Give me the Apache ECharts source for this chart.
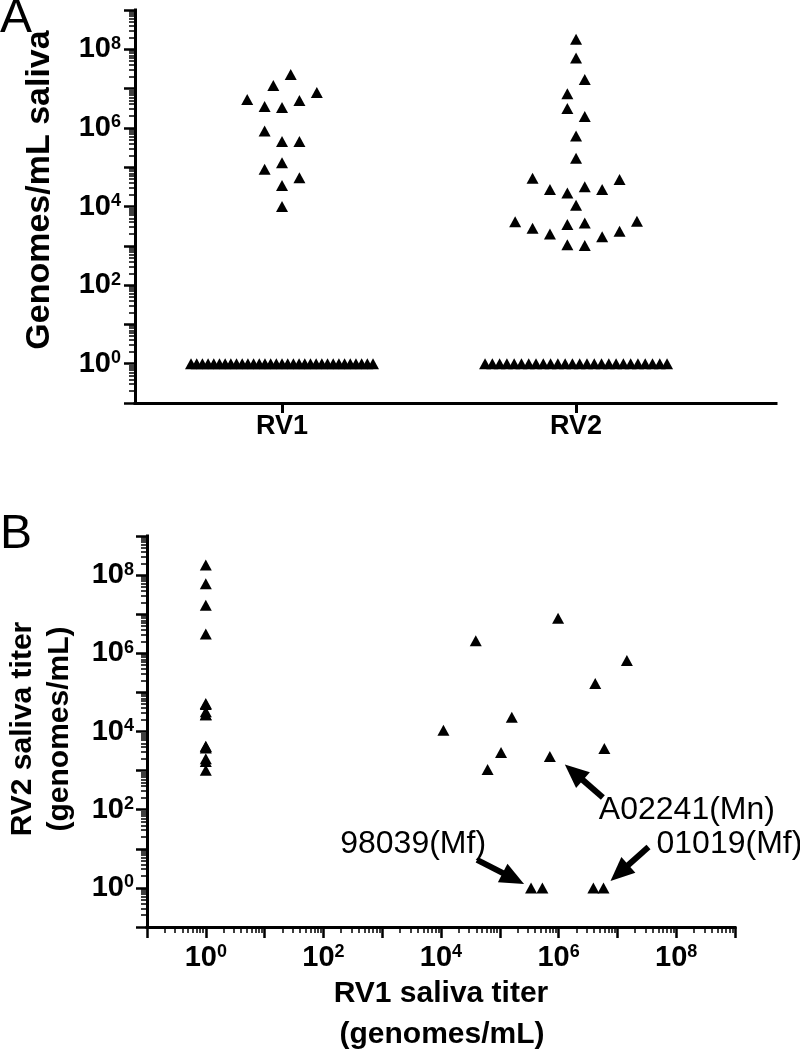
<!DOCTYPE html>
<html>
<head>
<meta charset="utf-8">
<script src="https://cdn.jsdelivr.net/npm/echarts@6/dist/echarts.min.js"></script>
<style>html,body{margin:0;padding:0;background:#fff}#c{width:800px;height:1057px}</style>
</head>
<body>
<div id="c"></div>
<script>
// ---------------- DATA ----------------
const categories = ['RV1', 'RV2'];

// Panel A: genomes/mL saliva (1 = below detection)
const rv1Saliva = [
  1.2e7, 2.3e7,
  3.3e6, 3.5e6, 5.0e6, 5.3e6, 8.0e6,
  4.5e5, 8.3e5, 4.5e5,
  1.3e5, 8.9e4, 5.4e4,
  3.4e4,
  1.0e4,
  1,1,1,1,1,1,1,1,1,1,1,1,1,1,1,1,1,1,1,1,1,1,1,1,1,1,1,1,1,1,1,1,1
];
const rv2Saliva = [
  1.8e8,
  6.0e7,
  7.4e6, 1.7e7,
  3.1e6, 1.95e6,
  6.2e5,
  1.7e5,
  2.2e4, 3.2e4, 2.7e4, 2.7e4, 5.2e4, 4.9e4,
  1.07e4,
  3.5e3, 3.8e3, 2.0e3, 1.7e3, 2.8e3, 2.35e3, 4.1e3, 4.2e3,
  1.07e3, 1.02e3,
  1,1,1,1,1,1,1,1,1,1,1,1,1,1,1,1,1,1,1,1,1,1,1,1,1,1
];

// Panel B: paired titers (genomes/mL)
const rv1Titer = [
  1,1,1,1,1,1,1,1,1,1,1,1,1,1,1,
  3.9e4, 9.8e5, 1.45e7, 4.2e6, 1.6e5, 1.1e4, 1.05e5, 7.1e5, 6.0e6, 6.2e4,
  3.4e5, 5.3e5, 3.9e6, 5.8e6
];
const rv2Titer = [
  1.8e8, 6.0e7, 1.7e7, 3.1e6, 5.2e4, 4.9e4, 3.2e4, 2.7e4, 2.7e4, 4.2e3, 4.1e3, 3.8e3, 2.0e3, 1.7e3, 1.02e3,
  2.1e6, 7.9e6, 6.5e5, 1.7e5, 2.3e4, 1.07e4, 2.9e3, 2.3e3, 3.7e3, 1.07e3,
  1, 1, 1, 1
];

const annotationLabels = ['A02241(Mn)', '98039(Mf)', '01019(Mf)'];
const annotationTargets = [[7.1e5, 2.3e3], [3.4e5, 1], [5.8e6, 1]];

const majorTickLabels = [1, 1e2, 1e4, 1e6, 1e8];
const decadeTicks = [0.1, 1, 10, 1e2, 1e3, 1e4, 1e5, 1e6, 1e7, 1e8, 1e9];

// ---------------- HELPERS ----------------
const FONT = "'Liberation Sans', Arial, Helvetica, sans-serif";
const minorTicks = [];
decadeTicks.slice(0, -1).forEach(d => { for (let m = 2; m <= 9; m++) minorTicks.push(m * d); });

// Column scatter (beeswarm): points grouped in rows by log value, spread symmetrically
const STEP = 17.4, MAXSPREAD = 182, ROW_DECADES = 0.4;
function swarm(values, xPos) {
  const idx = values.map((v, i) => i).sort((a, b) => values[b] - values[a] || a - b);
  const rows = []; let cur = null, top = 0;
  idx.forEach(i => {
    const l = Math.log10(values[i]);
    if (cur && top - l < ROW_DECADES) cur.push(i);
    else { cur = [i]; rows.push(cur); top = l; }
  });
  const off = values.map(() => 0);
  rows.forEach(r => {
    r.sort((a, b) => a - b);
    const n = r.length;
    const step = n > 1 ? Math.min(STEP, MAXSPREAD / (n - 1)) : 0;
    r.forEach((i, k) => {
      let s;
      if (n % 2) s = k === 0 ? 0 : (k % 2 ? -Math.ceil(k / 2) : k / 2);
      else { const m = Math.floor(k / 2) + 0.5; s = k % 2 ? m : -m; }
      off[i] = s * step;
    });
  });
  return values.map((v, i) => ({ value: [xPos, v], symbolOffset: [off[i], 0] }));
}

function powLabel(v) {
  const e = Math.round(Math.log10(v));
  return '{b|10}{s|' + e + '}';
}
const powRich = {
  b: { fontFamily: FONT, fontWeight: 'bold', fontSize: 29, lineHeight: 29, color: '#000', verticalAlign: 'top' },
  s: { fontFamily: FONT, fontWeight: 'bold', fontSize: 18, lineHeight: 18, color: '#000', verticalAlign: 'top' }
};

const axisLine = { show: true, onZero: false, lineStyle: { color: '#000', width: 3, cap: 'square' } };
function logAxis(gridIndex, position, isMinor, extra) {
  return Object.assign({
    type: 'log', logBase: 10, gridIndex, position, min: 0.1, max: 1e9,
    axisLine: isMinor ? { show: false } : axisLine,
    splitLine: { show: false },
    axisTick: isMinor
      ? { show: true, customValues: minorTicks, length: 6, lineStyle: { color: '#000', width: 1.5 } }
      : { show: true, customValues: decadeTicks, length: 11, lineStyle: { color: '#000', width: 2.5 } },
    axisLabel: isMinor ? { show: false } : {
      show: true, customValues: majorTickLabels, formatter: powLabel, rich: powRich
    }
  }, extra || {});
}

const triangle = { symbol: 'triangle', symbolSize: [12, 11], itemStyle: { color: '#000', opacity: 1 } };

const option = {
  animation: false,
  backgroundColor: '#fff',
  grid: [
    { left: 135, top: 10, width: 641, height: 393 },
    { left: 147, top: 536, width: 588, height: 391 }
  ],
  xAxis: [
    {
      type: 'value', gridIndex: 0, position: 'bottom', min: 0.5, max: 2.68,
      axisLine: axisLine, splitLine: { show: false },
      axisTick: { show: true, customValues: [1, 2], length: 10, lineStyle: { color: '#000', width: 3 } },
      axisLabel: {
        show: true, customValues: [1, 2], margin: 10,
        formatter: v => categories[Math.round(v) - 1],
        fontFamily: FONT, fontWeight: 'bold', fontSize: 27, color: '#000'
      }
    },
    logAxis(1, 'bottom', false, { axisLabel: { show: true, customValues: majorTickLabels, formatter: powLabel, rich: powRich, margin: 16 } }),
    logAxis(1, 'bottom', true)
  ],
  yAxis: [
    logAxis(0, 'left', false, { axisLabel: { show: true, customValues: majorTickLabels, formatter: powLabel, rich: powRich, margin: 14 } }),
    logAxis(0, 'left', true),
    logAxis(1, 'left', false, { axisLabel: { show: true, customValues: majorTickLabels, formatter: powLabel, rich: powRich, margin: 13 } }),
    logAxis(1, 'left', true)
  ],
  series: [
    Object.assign({ type: 'scatter', name: categories[0], xAxisIndex: 0, yAxisIndex: 0, data: swarm(rv1Saliva, 1) }, triangle),
    Object.assign({ type: 'scatter', name: categories[1], xAxisIndex: 0, yAxisIndex: 0, data: swarm(rv2Saliva, 2) }, triangle),
    Object.assign({ type: 'scatter', name: 'paired', xAxisIndex: 1, yAxisIndex: 2,
      data: rv1Titer.map((x, i) => [x, rv2Titer[i]]) }, triangle)
  ]
};

const chart = echarts.init(document.getElementById('c'), null, { renderer: 'canvas' });
chart.setOption(option);

// ---------------- TEXT & ANNOTATIONS ----------------
function txt(text, x, y, size, weight, align, rotation) {
  return {
    type: 'text', x, y, rotation: rotation || 0,
    style: { text, fontFamily: FONT, fontSize: size, fontWeight: weight, fill: '#000',
      textAlign: align, textVerticalAlign: 'middle', align: align, verticalAlign: 'middle' }
  };
}
function arrow(sx, sy, tx, ty) {
  const dx = tx - sx, dy = ty - sy, len = Math.hypot(dx, dy);
  const ux = dx / len, uy = dy / len, px = -uy, py = ux;
  const HL = 24, HW = 21;
  const bx = tx - ux * HL, by = ty - uy * HL;
  return [
    { type: 'line', shape: { x1: sx, y1: sy, x2: bx + ux * 2, y2: by + uy * 2 }, style: { stroke: '#000', lineWidth: 6 } },
    { type: 'polygon', shape: { points: [[tx, ty], [bx + px * HW / 2, by + py * HW / 2], [bx - px * HW / 2, by - py * HW / 2]] }, style: { fill: '#000' } }
  ];
}

const graphics = [
  txt('A', 0, 19, 48, 'normal', 'left'),
  txt('B', 0, 535, 48, 'normal', 'left'),
  txt('Genomes/mL saliva', 40, 190, 34, 'bold', 'center', Math.PI / 2),
  txt('RV2 saliva titer', 23, 729, 30, 'bold', 'center', Math.PI / 2),
  txt('(genomes/mL)', 60, 729, 30, 'bold', 'center', Math.PI / 2),
  txt('RV1 saliva titer', 441, 994, 30, 'bold', 'center'),
  txt('(genomes/mL)', 442, 1035, 30, 'bold', 'center')
];

// label/arrow placement relative to each target point (pixel offsets)
const annLayout = [
  { tail: [53, 41], tip: [15, 8], text: [49, 54], align: 'left' },
  { tail: [-54, -28], tip: [-7, -4], text: [-45, -44], align: 'right' },
  { tail: [45, -41], tip: [7, -7], text: [53, -44], align: 'left' }
];
annotationTargets.forEach((t, i) => {
  const p = chart.convertToPixel({ seriesIndex: 2 }, t);
  const L = annLayout[i];
  graphics.push(...arrow(p[0] + L.tail[0], p[1] + L.tail[1], p[0] + L.tip[0], p[1] + L.tip[1]));
  graphics.push(txt(annotationLabels[i], p[0] + L.text[0], p[1] + L.text[1], 32, 'normal', L.align));
});
chart.setOption({ graphic: graphics });
</script>
</body>
</html>
